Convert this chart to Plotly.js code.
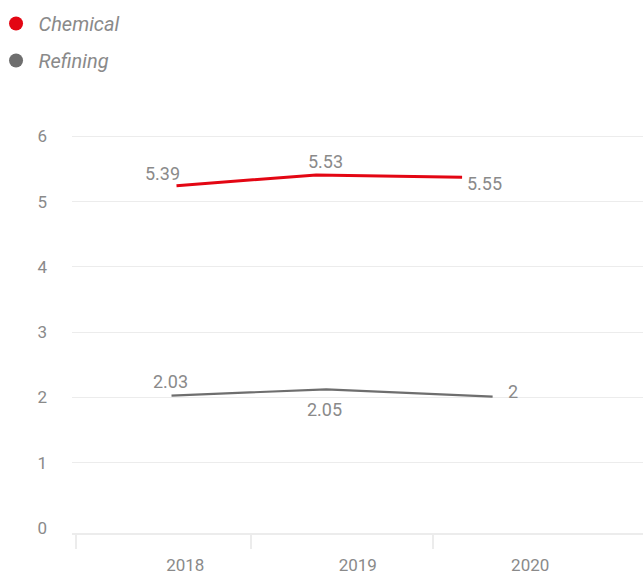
<!DOCTYPE html>
<html>
<head>
<meta charset="utf-8">
<script src="https://cdn.plot.ly/plotly-3.0.1.min.js"></script>
<style>html,body{margin:0;padding:0;background:#fff;}#chart{width:643px;height:574px;}</style>
</head>
<body>
<div id="chart"></div>
<script>
// ---- data ----
const years = [2018, 2019, 2020];
const yearLabels = ["2018", "2019", "2020"];
const categoryBounds = [2017.366, 2018.379, 2019.434];

const seriesNames = ["Chemical", "Refining"];
// points as drawn (x in years, y in axis units)
const chemicalX = [2017.949, 2018.759, 2019.605];
const chemicalY = [5.244, 5.408, 5.372];
const refiningX = [2017.920, 2018.817, 2019.782];
const refiningY = [2.027, 2.125, 2.011];
// value labels printed near the points
const chemicalLabels = ["5.39", "5.53", "5.55"];
const refiningLabels = ["2.03", "2.05", "2"];

const yTicks = [0, 1, 2, 3, 4, 5, 6];

// ---- styling ----
const RED = "#e30613";
const GREY = "#6e6e6e";
const TXT = "#8a8a8a";
const GRID = "#ececec";
const FONT = "Roboto, 'Open Sans', sans-serif";

// label offsets in pixels (style, not data)
const chemShift = [[-14, 12], [9, 13], [22, -6]];
const refShift = [[-1, 14], [-2, -20], [20, 5]];

const traces = [
  {x: chemicalX, y: chemicalY, type: "scatter", mode: "lines", name: seriesNames[0], line: {color: RED, width: 3}, showlegend: false, hoverinfo: "skip"},
  {x: refiningX, y: refiningY, type: "scatter", mode: "lines", name: seriesNames[1], line: {color: GREY, width: 2.2}, showlegend: false, hoverinfo: "skip"},
  {x: [null], y: [null], type: "scatter", mode: "markers", name: seriesNames[0], legendgroup: "a", showlegend: true, marker: {color: RED, size: 14}},
  {x: [null], y: [null], type: "scatter", mode: "markers", name: seriesNames[1], legendgroup: "b", showlegend: true, marker: {color: GREY, size: 14}},
  // invisible trace to activate the overlaying axis with boundary ticks
  {x: categoryBounds, y: categoryBounds.map(() => null), xaxis: "x2", type: "scatter", mode: "markers", showlegend: false, hoverinfo: "skip"}
];

const annotations = [];
chemicalLabels.forEach((t, i) => annotations.push({
  x: chemicalX[i], y: chemicalY[i], text: t, showarrow: false,
  xanchor: "center", yanchor: "middle", xshift: chemShift[i][0], yshift: chemShift[i][1],
  font: {family: FONT, size: 18, color: TXT}
}));
refiningLabels.forEach((t, i) => annotations.push({
  x: refiningX[i], y: refiningY[i], text: t, showarrow: false,
  xanchor: "center", yanchor: "middle", xshift: refShift[i][0], yshift: refShift[i][1],
  font: {family: FONT, size: 18, color: TXT}
}));

const xRange = [2017.343, 2020.654];

const layout = {
  width: 643, height: 574,
  margin: {l: 72, r: 0, t: 120, b: 41, autoexpand: false},
  paper_bgcolor: "#fff", plot_bgcolor: "#fff",
  font: {family: FONT, color: TXT},
  showlegend: true,
  legend: {
    xref: "paper", yref: "paper", x: -0.1374, y: 1.281, xanchor: "left", yanchor: "top",
    font: {family: FONT, size: 20, color: TXT, style: "italic"},
    itemwidth: 35, tracegroupgap: 8, traceorder: "grouped",
    bgcolor: "rgba(0,0,0,0)"
  },
  xaxis: {
    range: xRange, type: "linear",
    tickvals: years, ticktext: yearLabels,
    ticks: "", showgrid: false, zeroline: false,
    showline: true, linecolor: GRID, linewidth: 2,
    tickfont: {family: FONT, size: 17, color: TXT},
    ticklabelstandoff: 16, fixedrange: true
  },
  xaxis2: {
    range: xRange, type: "linear", overlaying: "x", anchor: "y", side: "bottom",
    tickvals: categoryBounds, showticklabels: false,
    ticks: "outside", ticklen: 15, tickwidth: 2, tickcolor: GRID,
    showgrid: false, zeroline: false, showline: false, fixedrange: true
  },
  yaxis: {
    range: [-0.0766, 6.25], tickvals: yTicks,
    showgrid: true, gridcolor: GRID, gridwidth: 1,
    zeroline: true, zerolinecolor: "rgba(0,0,0,0)",
    ticks: "", showline: false,
    tickfont: {family: FONT, size: 17, color: TXT},
    ticklabelstandoff: 24, fixedrange: true
  },
  annotations: annotations
};

Plotly.newPlot("chart", traces, layout, {displayModeBar: false, staticPlot: true});
</script>
</body>
</html>
